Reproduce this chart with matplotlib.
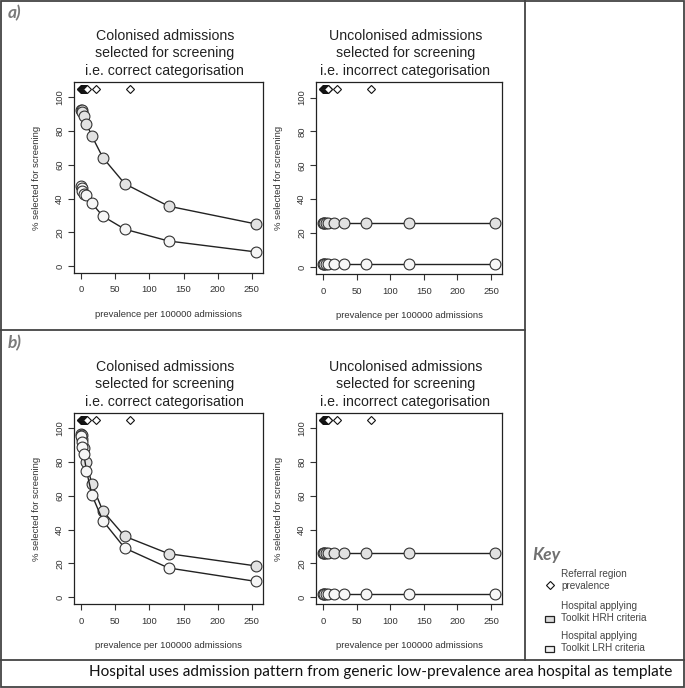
import matplotlib
matplotlib.use("Agg")
import matplotlib.pyplot as plt
from matplotlib.patches import Rectangle

plt.rcParams['font.family'] = ['Liberation Sans', 'DejaVu Sans']

W, H = 685, 688

# prevalence per 100000 admissions
prev = [0.5, 1, 2, 4, 8, 16, 32, 64, 128, 256]
# referral region prevalence (diamonds at top of each panel)
ref_prev = [0.2, 0.6, 1.0, 1.4, 1.8, 2.2, 2.6, 3.0, 3.5, 4.0, 4.6, 5.2,
            5.9, 6.6, 7.4, 8.2, 21.5, 72.0]
ref_y = 105

# panel a) colonised admissions selected (%)
a_col_hrh = [92.8, 92.4, 91.3, 89.3, 84.5, 77.0, 64.3, 48.8, 35.5, 24.9]
a_col_lrh = [47.5, 46.0, 44.2, 43.0, 42.0, 37.1, 29.5, 21.8, 14.8, 8.3]
# panel a) uncolonised admissions selected (%)
a_unc_hrh = [26.2] * 10
a_unc_lrh = [1.5] * 10

# panel b)
b_col_hrh = [97.0, 96.0, 94.0, 88.5, 80.0, 66.8, 51.0, 36.0, 25.7, 18.4]
b_col_lrh = [95.5, 92.0, 89.0, 85.0, 75.0, 60.5, 45.2, 29.0, 17.2, 9.2]
b_unc_hrh = [26.2] * 10
b_unc_lrh = [1.5] * 10

titles = ["Colonised admissions\nselected for screening\ni.e. correct categorisation",
          "Uncolonised admissions\nselected for screening\ni.e. incorrect categorisation"]
xticks = [0, 50, 100, 150, 200, 250]
yticks = [0, 20, 40, 60, 80, 100]

fig = plt.figure(figsize=(W / 100, H / 100), dpi=100)


def px_axes(l, t, r, b):
    return fig.add_axes([l / W, 1 - b / H, (r - l) / W, (b - t) / H])


def panel(ax, hrh, lrh, title):
    txt = '#333333'
    ax.plot(ref_prev, [ref_y] * len(ref_prev), ls='none', marker='D', ms=3.6,
            mfc='white', mec='#111111', mew=0.8)
    ax.plot(prev, hrh, color='#222222', lw=1.0, marker='o', ms=7.8,
            mfc='#e2e2e2', mec='#333333', mew=0.8)
    ax.plot(prev, lrh, color='#222222', lw=1.0, marker='o', ms=7.8,
            mfc='#f6f6f6', mec='#333333', mew=0.8)
    ax.set_xlim(-10.24, 266.24)
    ax.set_ylim(-4.2, 109.2)
    ax.set_xticks(xticks)
    ax.set_yticks(yticks)
    ax.tick_params(direction='out', length=4, width=0.8, color='#333333',
                   labelsize=6.8, labelcolor=txt, pad=3)
    ax.tick_params(axis='x', pad=5)
    for lab in ax.get_yticklabels():
        lab.set_rotation(90)
        lab.set_va('center')
    for s in ax.spines.values():
        s.set_color('#222222')
        s.set_linewidth(0.9)
    ax.set_xlabel('prevalence per 100000 admissions', fontsize=6.8, color=txt, labelpad=11)
    ax.set_ylabel('% selected for screening', fontsize=6.8, color=txt, labelpad=10)
    ax.text(0.48, 1.022, title, transform=ax.transAxes, ha='center', va='bottom',
            fontsize=10.2, color='#222222', linespacing=1.3)


panel(px_axes(74, 82, 263, 273), a_col_hrh, a_col_lrh, titles[0])
panel(px_axes(316, 82, 502, 274), a_unc_hrh, a_unc_lrh, titles[1])
panel(px_axes(74, 413, 263, 604), b_col_hrh, b_col_lrh, titles[0])
panel(px_axes(316, 413, 502, 604), b_unc_hrh, b_unc_lrh, titles[1])

# overlay for frames, labels and key (pixel coordinates)
ov = fig.add_axes([0, 0, 1, 1], zorder=10)
ov.set_xlim(0, W)
ov.set_ylim(H, 0)
ov.axis('off')
ov.patch.set_visible(False)
lc = '#444444'
ov.add_patch(Rectangle((1, 1), W - 2, H - 2, fill=False, ec=lc, lw=1.3))
ov.plot([525, 525], [0, 660], color=lc, lw=1.3)
ov.plot([0, 525], [330, 330], color=lc, lw=1.3)
ov.plot([0, W], [660, 660], color=lc, lw=1.3)

ov.text(8, 13, 'a)', fontsize=12.5, fontweight='bold', style='italic', color='#7a7a7a',
        family='Lato', va='center')
ov.text(8, 343, 'b)', fontsize=12.5, fontweight='bold', style='italic', color='#7a7a7a',
        family='Lato', va='center')

ov.text(532, 555, 'Key', fontsize=12.5, fontweight='bold', style='italic', color='#707070',
        family='Lato', va='center')
kc = '#444444'
ov.plot([550], [585], ls='none', marker='D', ms=3.6, mfc='white', mec='#111111', mew=0.8)
ov.text(561, 580, 'Referral region\nprevalence', fontsize=7.2, color=kc, va='center',
        linespacing=1.2)
ov.add_patch(Rectangle((545.5, 615.5), 9, 6, fc='#dcdcdc', ec='#222222', lw=0.9))
ov.text(561, 612, 'Hospital applying\nToolkit HRH criteria', fontsize=7.2, color=kc,
        va='center', linespacing=1.2)
ov.add_patch(Rectangle((545.5, 645.5), 9, 6, fc='#f2f2f2', ec='#222222', lw=0.9))
ov.text(561, 642, 'Hospital applying\nToolkit LRH criteria', fontsize=7.2, color=kc,
        va='center', linespacing=1.2)

ov.text(381, 672, 'Hospital uses admission pattern from generic low-prevalence area hospital as template',
        fontsize=11.1, color='#111111', family='Lato', ha='center', va='center')

fig.savefig('out.png', dpi=100)
